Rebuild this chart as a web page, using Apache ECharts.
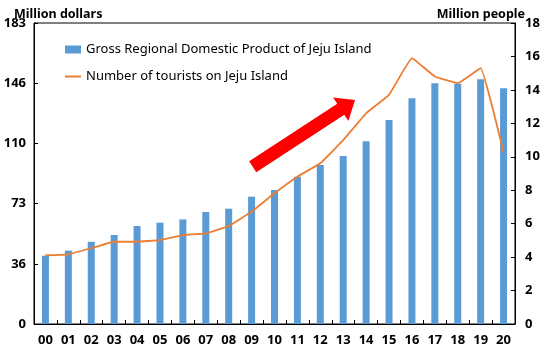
<!DOCTYPE html>
<html>
<head>
<meta charset="utf-8">
<script src="https://cdn.jsdelivr.net/npm/echarts@6/dist/echarts.min.js"></script>
<style>html,body{margin:0;padding:0;background:#fff}#c{width:550px;height:356px}</style>
</head>
<body>
<div id="c"></div>
<script>
var years = ['00','01','02','03','04','05','06','07','08','09','10','11','12','13','14','15','16','17','18','19','20'];
var grdp = [41.5,44.6,50.0,54.1,59.6,61.6,63.6,68.1,70.1,77.4,81.5,89.6,96.7,102.1,111.1,124.0,137.2,146.3,146.0,148.8,143.3];
var tourists = [4.11,4.17,4.53,4.92,4.92,5.02,5.32,5.42,5.86,6.72,7.82,8.81,9.61,11.0,12.6,13.7,15.9,14.8,14.4,15.3,10.25];
var leftTickLabels = ['0','36','73','110','146','183'];
var leftMax = 183;
var rightMax = 18;
var rightInterval = 2;

var chart = echarts.init(document.getElementById('c'));
var FONT = 'Noto Sans';

// arrow decoration geometry
function arrowPoints(tx, ty, hx, hy, hw, headW, headL) {
  var dx = hx - tx, dy = hy - ty, L = Math.sqrt(dx*dx+dy*dy);
  var ux = dx/L, uy = dy/L, nx = -uy, ny = ux;
  var bx = hx - ux*headL, by = hy - uy*headL;
  return [
    [tx + nx*hw, ty + ny*hw],
    [bx + nx*hw, by + ny*hw],
    [bx + nx*headW, by + ny*headW],
    [hx, hy],
    [bx - nx*headW, by - ny*headW],
    [bx - nx*hw, by - ny*hw],
    [tx - nx*hw, ty - ny*hw]
  ];
}

chart.setOption({
  animation: false,
  backgroundColor: '#fff',
  textStyle: { fontFamily: FONT },
  title: [
    { text: 'Million dollars', left: 9, top: 3, textStyle: { fontFamily: FONT, fontSize: 12.5, fontWeight: 'bold', color: '#000' } },
    { text: 'Million people', right: 20, top: 3, textStyle: { fontFamily: FONT, fontSize: 12.5, fontWeight: 'bold', color: '#000' } }
  ],
  legend: {
    orient: 'vertical',
    left: 60,
    top: 38,
    itemGap: 14,
    itemWidth: 16,
    itemHeight: 8,
    textStyle: { fontFamily: FONT, fontSize: 13, color: '#000' },
    data: [
      { name: 'Gross Regional Domestic Product of Jeju Island', icon: 'rect' },
      { name: 'Number of tourists on Jeju Island', icon: 'path://M0,0 L16,0 L16,2 L0,2 Z' }
    ]
  },
  grid: { left: 34, right: 35, top: 23, bottom: 32, show: true, borderColor: '#000', borderWidth: 1 },
  xAxis: {
    type: 'category',
    data: years,
    boundaryGap: true,
    axisLine: { lineStyle: { color: '#000', width: 1 } },
    axisTick: { show: true, inside: true, length: 4, alignWithLabel: false, lineStyle: { color: '#000' } },
    axisLabel: { fontFamily: FONT, fontSize: 13, fontWeight: 'bold', color: '#000', margin: 10 }
  },
  yAxis: [
    {
      type: 'value', min: 0, max: leftMax, interval: leftMax / 5,
      splitLine: { show: false },
      axisLine: { show: true, lineStyle: { color: '#000' } },
      axisTick: { show: true, inside: true, length: 4, lineStyle: { color: '#000' } },
      axisLabel: {
        fontFamily: FONT, fontSize: 13, fontWeight: 'bold', color: '#000', margin: 8,
        formatter: function (v) { return leftTickLabels[Math.round(v / (leftMax / 5))]; }
      }
    },
    {
      type: 'value', min: 0, max: rightMax, interval: rightInterval,
      splitLine: { show: false },
      axisLine: { show: true, lineStyle: { color: '#000' } },
      axisTick: { show: true, inside: true, length: 4, lineStyle: { color: '#000' } },
      axisLabel: { fontFamily: FONT, fontSize: 13, fontWeight: 'bold', color: '#000', margin: 10 }
    }
  ],
  series: [
    {
      name: 'Gross Regional Domestic Product of Jeju Island',
      type: 'bar', data: grdp, barWidth: 7,
      itemStyle: { color: '#5B9BD5' }
    },
    {
      name: 'Number of tourists on Jeju Island',
      type: 'line', yAxisIndex: 1, data: tourists,
      symbol: 'none', smooth: 0.08,
      lineStyle: { color: '#ED7D31', width: 1.8 },
      itemStyle: { color: '#ED7D31' }
    }
  ],
  graphic: [
    {
      type: 'polygon', silent: true, z: 100,
      shape: { points: arrowPoints(252.7, 166.7, 355, 100, 6.5, 14, 17) },
      style: { fill: '#FF0000' }
    }
  ]
});
</script>
</body>
</html>
